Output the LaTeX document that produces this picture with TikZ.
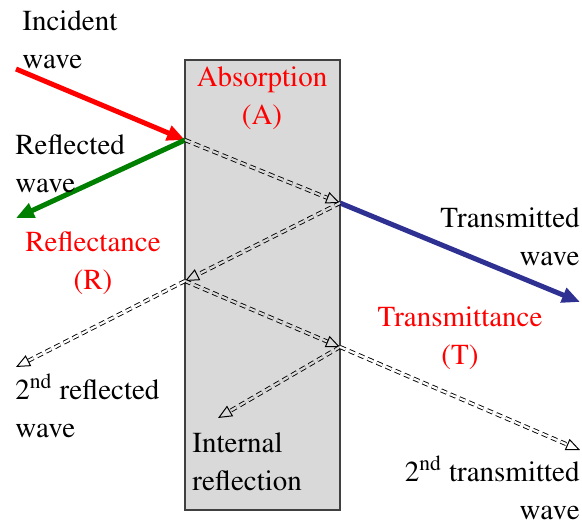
\documentclass[tikz,border=0pt]{standalone}
\usepackage[T1]{fontenc}
\usepackage{mathptmx}
\usepackage{xcolor}
\usepackage{tikz}
\usetikzlibrary{arrows.meta}

\definecolor{slabgray}{RGB}{217,217,217}
\definecolor{wavered}{RGB}{255,0,0}
\definecolor{wavegreen}{RGB}{0,128,0}
\definecolor{waveblue}{RGB}{46,49,146}

\begin{document}
\begin{tikzpicture}[
					x=0.5pt, y=-0.5pt,
					font=\rmfamily\fontsize{14.5}{19}\selectfont,
					slab/.style={
						rectangle, draw=black!75, fill=slabgray,
						line width=1pt, minimum width=77.5pt, minimum height=225pt
					},
					txt/.style={inner sep=0pt, align=left},
					hot/.style={inner sep=0pt, align=center, text=wavered},
					wave/.style={line width=2.5pt, -{Triangle[length=9pt,width=7.5pt]}},
					ghost/.style={
						double distance=1.1pt, line width=0.45pt, densely dashed,
						-{Triangle[open,length=7pt,width=6pt,line width=0.5pt]}
					}
					]
					\useasboundingbox (0,0) rectangle (582,524);
					%% ─── SLAB ────────────────────────────────────────────────────────────
					\node[slab] (slab) at (262.5,285) {};
					
					%% ─── RAY POINTS ──────────────────────────────────────────────────────
					\coordinate (src) at (16,69);
					\coordinate (hit1) at (185,140);
					\coordinate (refl) at (16,218);
					\coordinate (out1) at (340,203);
					\coordinate (trans) at (580,302);
					\coordinate (hit2) at (185,281);
					\coordinate (refl2) at (16,367);
					\coordinate (out2) at (340,347);
					\coordinate (trans2) at (580,450);
					\coordinate (back) at (218,418);
					
					%% ─── WAVES ───────────────────────────────────────────────────────────
					\draw[wave, wavered] (src) -- (hit1);
					\draw[wave, wavegreen] (hit1) -- (refl);
					\draw[wave, waveblue] (out1) -- (trans);
					
					\draw[ghost, double=slabgray] (hit1) -- (out1);
					\draw[ghost, double=slabgray] (out1) -- (hit2);
					\draw[ghost, double=slabgray] (hit2) -- (out2);
					\draw[ghost, double=slabgray] (out2) -- (back);
					\draw[ghost, double=white] (hit2) -- (refl2);
					\draw[ghost, double=white] (out2) -- (trans2);
					
					%% ─── LABELS ──────────────────────────────────────────────────────────
					\node[txt, anchor=west] (inclbl) at (22,40) {Incident\\wave};
					\node[txt, anchor=west] (refllbl) at (15,164) {Reflected\\wave};
					\node[hot] (abs) at (262,98) {Absorption\\(A)};
					\node[hot] (rfl) at (93,263) {Reflectance\\(R)};
					\node[txt, align=right, anchor=east] (translbl) at (580,237) {Transmitted\\wave};
					\node[hot] (trm) at (460,338) {Transmittance\\(T)};
					\node[txt, anchor=west] (refl2lbl) at (15,406) {2\textsuperscript{nd} reflected\\wave};
					\node[txt, anchor=west] (intlbl) at (192,462) {Internal\\reflection};
					\node[txt, align=right, anchor=east] (trans2lbl) at (580,488) {2\textsuperscript{nd} transmitted\\wave};
				\end{tikzpicture}
\end{document}
